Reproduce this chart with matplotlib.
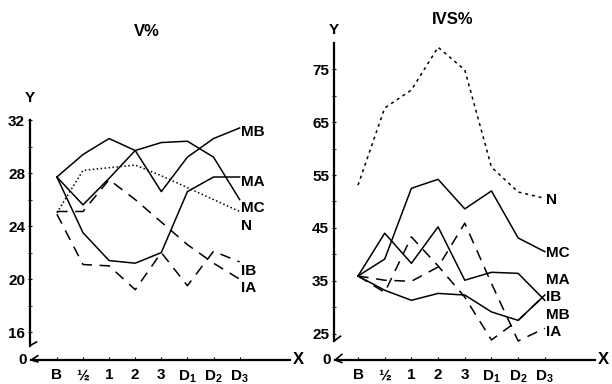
import matplotlib.pyplot as plt
import numpy as np

plt.rcParams['font.family'] = ['Liberation Sans', 'DejaVu Sans']
plt.rcParams['font.weight'] = 'bold'
plt.rcParams['mathtext.default'] = 'regular'

x_labels = ['B', '½', '1', '2', '3', 'D$_1$', 'D$_2$', 'D$_3$']

# V% panel
v_mb = [27.7, 25.6, 27.6, 29.7, 26.6, 29.2, 30.6, 31.4]
v_ma = [27.7, 23.5, 21.4, 21.2, 22.0, 26.6, 27.7, 27.7]
v_mc = [27.7, 29.4, 30.6, 29.7, 30.3, 30.4, 29.2, 26.0]
v_n = [25.0, 28.2, 28.4, 28.6, 27.8, 26.9, 26.0, 25.1]
v_ia = [25.1, 25.1, 27.5, 26.0, 24.3, 22.6, 21.2, 20.0]
v_ib = [24.9, 21.1, 21.0, 19.2, 22.0, 19.5, 22.1, 21.3]
v_ticks = [16, 20, 24, 28, 32]

# IVS% panel
i_n = [53.1, 67.7, 71.1, 79.2, 74.9, 56.5, 51.8, 50.6]
i_mc = [35.9, 39.1, 52.5, 54.2, 48.6, 52.0, 43.1, 40.5]
i_ma = [35.9, 44.0, 38.3, 45.2, 35.1, 36.6, 36.4, 31.3]
i_mb = [35.9, 33.2, 31.3, 32.6, 32.3, 29.1, 27.5, 32.3]
i_ia = [35.9, 35.1, 34.9, 37.6, 45.9, 34.5, 23.6, 26.0]
i_ib = [35.9, 32.8, 43.3, 37.8, 31.9, 23.8, 27.5, 32.3]
i_ticks = [25, 35, 45, 55, 65, 75]

SOLID = '-'
LONG_DASH = (0, (7, 5))


def panel(ax, series, ticks, ylim, xlim, title, title_xy, ylab_y):
    x = np.arange(len(x_labels))
    for vals, name, style, lab_y in series:
        ax.plot(x, vals, color='black', lw=1.1, linestyle=style,
                clip_on=False)
        ax.text(x[-1] + 0.05, lab_y, name, ha='left', va='center',
                fontsize=11)
    ax.set_xlim(*xlim)
    ax.set_ylim(*ylim)
    for s in ax.spines.values():
        s.set_visible(False)
    ax.patch.set_alpha(0)

    # broken axes drawn by hand
    k = dict(color='black', lw=1.6, transform=ax.transAxes, clip_on=False)
    ax.plot([0, 0], [0.06, 1], **k)
    ax.plot([0, 0.025], [0.06, 0.075], lw=1.2, color='black',
            transform=ax.transAxes, clip_on=False)
    ax.plot([0.005, 1], [0, 0], **k)
    ax.plot([0.03, 0.005, 0.03], [0.018, 0.0, -0.008], lw=1.2,
            color='black', transform=ax.transAxes, clip_on=False)

    ax.set_xticks(x)
    ax.set_xticklabels(x_labels, fontsize=11)
    ax.set_yticks(ticks)
    ax.set_yticklabels([str(t) for t in ticks], fontsize=11)
    ax.set_yticks([t + (ticks[1] - ticks[0]) / 2 for t in ticks[:-1]],
                  minor=True)
    ax.tick_params(axis='x', direction='in', length=2, pad=6)
    ax.tick_params(axis='y', which='both', direction='inout', length=3,
                   pad=2)
    ax.text(-0.012, 0, '0', transform=ax.transAxes, ha='right',
            va='center', fontsize=11)
    ax.text(1.01, 0, 'X', transform=ax.transAxes, ha='left',
            va='center', fontsize=12)
    ax.text(0.0, ylab_y, 'Y', transform=ax.transAxes, ha='center',
            va='center', fontsize=11)
    ax.figure.text(title_xy[0], title_xy[1], title, ha='center',
                   va='center', fontsize=12)


fig = plt.figure(figsize=(6.12, 3.84), dpi=100)

ax1 = fig.add_axes([30 / 612, 24 / 384, 260 / 612, 240 / 384])
panel(
    ax1,
    [
        (v_mb, 'MB', SOLID, 31.1),
        (v_ma, 'MA', SOLID, 27.3),
        (v_mc, 'MC', SOLID, 25.4),
        (v_n, 'N', (0, (1, 1.6)), 24.0),
        (v_ib, 'IB', LONG_DASH, 20.6),
        (v_ia, 'IA', LONG_DASH, 19.3),
    ],
    v_ticks, (13.9, 32), (-1.03, 8.93), 'V%', (147 / 612, 1 - 31 / 384),
    1.09,
)

ax2 = fig.add_axes([334 / 612, 24 / 384, 261 / 612, 317 / 384])
panel(
    ax2,
    [
        (i_n, 'N', (0, (2, 2.5)), 50.3),
        (i_mc, 'MC', SOLID, 40.2),
        (i_ma, 'MA', SOLID, 35.1),
        (i_ib, 'IB', LONG_DASH, 31.9),
        (i_mb, 'MB', SOLID, 28.5),
        (i_ia, 'IA', LONG_DASH, 25.3),
    ],
    i_ticks, (20, 80), (-0.9, 8.88), 'IVS%', (453 / 612, 1 - 20 / 384),
    1.04,
)

fig.savefig('out.png', dpi=100)
